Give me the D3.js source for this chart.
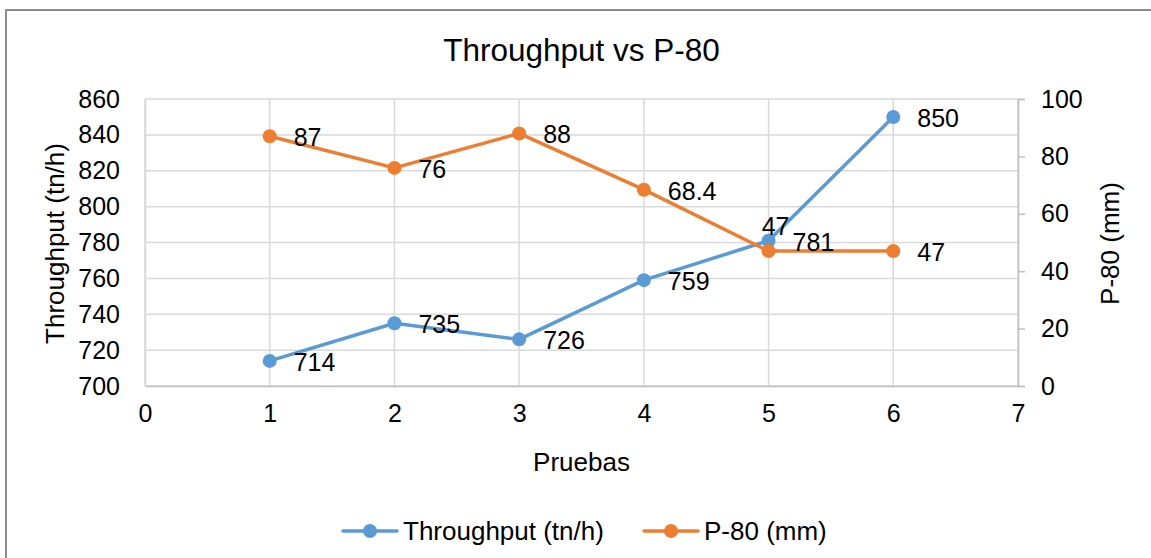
<!DOCTYPE html>
<html>
<head>
<meta charset="utf-8">
<script src="https://cdn.jsdelivr.net/npm/d3@7"></script>
<style>
  body { margin: 0; background: #fff; }
  text { font-family: "Liberation Sans", Arial, sans-serif; fill: #000; }
</style>
</head>
<body>
<svg id="chart"></svg>
<script>
// Data
const pruebas = [1, 2, 3, 4, 5, 6];
const throughput = [714, 735, 726, 759, 781, 850];
const p80 = [87, 76, 88, 68.4, 47, 47];
const xTicks = [0, 1, 2, 3, 4, 5, 6, 7];
const leftTicks = [700, 720, 740, 760, 780, 800, 820, 840, 860];
const rightTicks = [0, 20, 40, 60, 80, 100];

(function () {
const W = 1151, H = 558;
const plot = {left: 145, right: 1018, top: 99, bottom: 386};

const svg = d3.select("#chart")
    .attr("width", W)
    .attr("height", H);

// chart border (cut off at right / bottom like the picture)
svg.append("path")
    .attr("d", `M6,${H + 5} V10 H${W + 5}`)
    .attr("fill", "none")
    .attr("stroke", "#8c8c8c")
    .attr("stroke-width", 2);

const x = d3.scaleLinear().domain([0, 7]).range([plot.left, plot.right]);
const yL = d3.scaleLinear().domain([700, 860]).range([plot.bottom, plot.top]);
const yR = d3.scaleLinear().domain([0, 100]).range([plot.bottom, plot.top]);

const blue = "#5B9BD5", orange = "#ED7D31", grid = "#d9d9d9";

// gridlines
svg.append("g").selectAll("line")
    .data(leftTicks)
    .enter().append("line")
    .attr("x1", plot.left).attr("x2", plot.right)
    .attr("y1", d => yL(d)).attr("y2", d => yL(d))
    .attr("stroke", grid).attr("stroke-width", 1.5);
svg.append("g").selectAll("line")
    .data(xTicks)
    .enter().append("line")
    .attr("x1", d => x(d)).attr("x2", d => x(d))
    .attr("y1", plot.top).attr("y2", plot.bottom)
    .attr("stroke", grid).attr("stroke-width", 1.5);

// bottom axis
const xAxis = svg.append("g")
    .attr("transform", `translate(0,${plot.bottom})`)
    .call(d3.axisBottom(x).tickValues(xTicks).tickFormat(d3.format("d")).tickSize(0).tickPadding(28));
xAxis.select(".domain").attr("stroke", "#bfbfbf").attr("stroke-width", 1.5);
xAxis.selectAll("text").style("font-size", "25px").attr("dy", "0.32em");

// left axis
const lAxis = svg.append("g")
    .attr("transform", `translate(${plot.left},0)`)
    .call(d3.axisLeft(yL).tickValues(leftTicks).tickSize(0).tickPadding(25));
lAxis.select(".domain").attr("stroke", grid).attr("stroke-width", 1.5);
lAxis.selectAll("text").style("font-size", "25px");

// right axis
const rAxis = svg.append("g")
    .attr("transform", `translate(${plot.right},0)`)
    .call(d3.axisRight(yR).tickValues(rightTicks).tickSize(7).tickPadding(16));
rAxis.select(".domain").attr("stroke", "#bfbfbf").attr("stroke-width", 1.5);
rAxis.selectAll(".tick line").attr("stroke", "#bfbfbf").attr("stroke-width", 1.5);
rAxis.selectAll("text").style("font-size", "25px");

// titles
svg.append("text")
    .attr("x", (plot.left + plot.right) / 2)
    .attr("y", 61)
    .attr("text-anchor", "middle")
    .style("font-size", "31.5px")
    .text("Throughput vs P-80");

svg.append("text")
    .attr("x", (plot.left + plot.right) / 2)
    .attr("y", 471)
    .attr("text-anchor", "middle")
    .style("font-size", "26px")
    .text("Pruebas");

svg.append("text")
    .attr("transform", `translate(64,${(plot.top + plot.bottom) / 2 + 1}) rotate(-90)`)
    .attr("text-anchor", "middle")
    .style("font-size", "26px")
    .text("Throughput (tn/h)");

svg.append("text")
    .attr("transform", `translate(1119,${(plot.top + plot.bottom) / 2 + 1}) rotate(-90)`)
    .attr("text-anchor", "middle")
    .style("font-size", "26px")
    .text("P-80 (mm)");

// series
const series = [
    {name: "Throughput (tn/h)", values: throughput, y: yL, color: blue, above: []},
    {name: "P-80 (mm)", values: p80, y: yR, color: orange, above: [4]}
];

series.forEach(s => {
    const pts = pruebas.map((p, i) => ({x: p, v: s.values[i], i: i}));
    const line = d3.line().x(d => x(d.x)).y(d => s.y(d.v));
    svg.append("path")
        .datum(pts)
        .attr("d", line)
        .attr("fill", "none")
        .attr("stroke", s.color)
        .attr("stroke-width", 3.5)
        .attr("stroke-linejoin", "round")
        .attr("stroke-linecap", "round");
    svg.append("g").selectAll("circle")
        .data(pts)
        .enter().append("circle")
        .attr("cx", d => x(d.x))
        .attr("cy", d => s.y(d.v))
        .attr("r", 7)
        .attr("fill", s.color);
    s.pts = pts;
});

// data labels drawn on top
series.forEach(s => {
    svg.append("g").selectAll("text")
        .data(s.pts)
        .enter().append("text")
        .attr("x", d => s.above.includes(d.i) ? x(d.x) + 7 : x(d.x) + 24)
        .attr("y", d => s.above.includes(d.i) ? s.y(d.v) - 25 : s.y(d.v) + 1)
        .attr("text-anchor", d => s.above.includes(d.i) ? "middle" : "start")
        .attr("dominant-baseline", "central")
        .style("font-size", "25px")
        .text(d => String(d.v));
});

// legend
const legend = svg.append("g").attr("transform", "translate(0,531)");
const legendX = [343, 644];
series.forEach((s, i) => {
    const g = legend.append("g").attr("transform", `translate(${legendX[i]},0)`);
    g.append("line")
        .attr("x1", 0).attr("x2", 54)
        .attr("stroke", s.color).attr("stroke-width", 3.5)
        .attr("stroke-linecap", "round");
    g.append("circle").attr("cx", 27).attr("r", 7).attr("fill", s.color);
    g.append("text")
        .attr("x", 60)
        .attr("y", 8.5)
        .style("font-size", "26px")
        .text(s.name);
});
})();
</script>
</body>
</html>
